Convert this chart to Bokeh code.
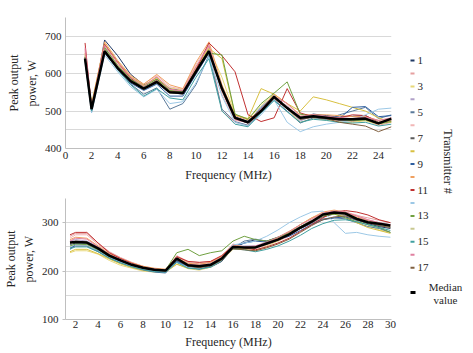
import math
from bokeh.plotting import figure
from bokeh.layouts import row, column
from bokeh.models import FixedTicker, Range1d, Label, ColumnDataSource
from bokeh.embed import file_html
from bokeh.resources import INLINE
from bokeh.core.properties import value

# ---------------- data ----------------
FREQ_A = [1.5, 2, 3, 4, 5, 6, 7, 8, 9, 10, 11, 12, 13, 14, 15, 16, 17, 18, 19, 20, 21, 22, 23, 24, 25]

TX_A = [
    [640, 500, 690, 648, 598, 570, 585, 560, 555, 610, 665, 560, 480, 468, 505, 540, 512, 480, 492, 488, 484, 486, 488, 470, 478],
    [665, 510, 672, 625, 588, 565, 590, 558, 552, 615, 672, 500, 470, 462, 498, 532, 510, 478, 484, 478, 474, 472, 476, 462, 470],
    [650, 515, 668, 622, 584, 568, 588, 562, 556, 620, 668, 590, 490, 478, 515, 545, 505, 470, 480, 476, 472, 470, 474, 465, 472],
    [645, 508, 662, 618, 580, 562, 582, 548, 546, 600, 660, 560, 478, 470, 502, 538, 506, 474, 486, 482, 476, 475, 478, 468, 476],
    [638, 498, 655, 612, 572, 545, 562, 505, 520, 570, 650, 505, 472, 462, 495, 530, 500, 468, 482, 478, 490, 500, 510, 480, 490],
    [660, 512, 675, 628, 590, 572, 595, 565, 558, 625, 678, 545, 475, 470, 500, 534, 515, 480, 488, 484, 480, 478, 482, 470, 482],
    [642, 505, 660, 615, 578, 558, 575, 550, 545, 602, 658, 555, 480, 468, 498, 536, 508, 478, 484, 480, 476, 476, 478, 466, 478],
    [635, 520, 680, 632, 592, 568, 590, 555, 550, 612, 668, 640, 490, 480, 560, 545, 520, 500, 538, 530, 520, 510, 500, 482, 470],
    [640, 502, 665, 618, 575, 555, 572, 540, 540, 598, 655, 565, 485, 472, 510, 542, 505, 480, 488, 485, 480, 510, 512, 485, 488],
    [655, 515, 685, 635, 595, 572, 598, 570, 560, 630, 685, 570, 488, 476, 505, 545, 520, 490, 490, 490, 488, 485, 486, 475, 480],
    [682, 508, 678, 630, 588, 560, 582, 552, 550, 610, 682, 648, 605, 490, 472, 482, 560, 495, 485, 484, 482, 490, 488, 470, 475],
    [630, 495, 650, 605, 565, 538, 558, 520, 525, 575, 645, 540, 470, 460, 490, 530, 470, 445, 458, 465, 470, 475, 490, 505, 508],
    [645, 510, 670, 622, 585, 565, 585, 555, 552, 608, 655, 650, 492, 478, 520, 548, 578, 492, 485, 482, 478, 474, 476, 466, 472],
    [648, 505, 664, 620, 582, 560, 580, 548, 548, 604, 662, 555, 482, 470, 500, 540, 510, 482, 486, 482, 478, 480, 482, 470, 476],
    [636, 500, 658, 610, 570, 540, 560, 535, 530, 590, 640, 500, 465, 458, 495, 528, 498, 470, 478, 475, 470, 468, 470, 460, 465],
    [670, 512, 676, 630, 590, 566, 592, 558, 554, 618, 675, 555, 478, 468, 505, 540, 520, 486, 490, 486, 482, 480, 484, 475, 482],
    [644, 506, 662, 616, 580, 560, 578, 550, 548, 604, 660, 560, 482, 468, 500, 535, 506, 478, 484, 480, 470, 465, 460, 445, 458],
]
MEDIAN_A = [640, 505, 660, 615, 580, 560, 578, 550, 548, 605, 660, 560, 482, 470, 500, 538, 508, 482, 486, 482, 478, 478, 480, 467, 480]

FREQ_B = [1.5, 2, 3, 4, 5, 6, 7, 8, 9, 10, 11, 12, 13, 14, 15, 16, 17, 18, 19, 20,
          21, 22, 23, 24, 25, 26, 27, 28, 29, 30]

TX_B = [
    [255, 258, 258, 245, 230, 220, 212, 205, 200, 198, 222, 210, 205, 208, 220, 248, 258, 265, 262, 270, 280, 292, 305, 318, 320, 318, 305, 298, 292, 288],
    [272, 278, 278, 258, 240, 228, 218, 210, 205, 203, 230, 218, 215, 218, 230, 255, 250, 248, 255, 262, 272, 288, 300, 315, 322, 320, 315, 310, 305, 300],
    [238, 242, 242, 235, 222, 212, 206, 200, 198, 198, 215, 205, 202, 208, 222, 245, 245, 242, 252, 262, 275, 290, 305, 318, 320, 316, 305, 295, 285, 280],
    [262, 265, 262, 250, 235, 225, 215, 208, 204, 202, 228, 214, 212, 215, 228, 250, 252, 252, 258, 268, 278, 292, 304, 314, 318, 315, 310, 305, 300, 296],
    [248, 252, 252, 240, 226, 216, 208, 202, 198, 196, 220, 208, 205, 210, 224, 248, 262, 266, 262, 268, 276, 288, 298, 308, 310, 308, 300, 292, 288, 280],
    [268, 275, 275, 255, 238, 226, 216, 208, 203, 202, 232, 220, 218, 220, 232, 256, 250, 246, 254, 264, 276, 292, 306, 318, 324, 322, 316, 306, 300, 296],
    [258, 260, 258, 246, 232, 222, 213, 206, 202, 200, 225, 212, 208, 212, 225, 250, 248, 250, 256, 264, 275, 288, 300, 312, 318, 320, 310, 300, 296, 292],
    [240, 245, 245, 236, 225, 215, 208, 202, 200, 198, 214, 206, 205, 210, 224, 248, 246, 248, 258, 270, 282, 296, 310, 318, 318, 312, 300, 290, 284, 278],
    [245, 255, 256, 242, 228, 218, 210, 203, 199, 197, 220, 208, 204, 210, 224, 250, 258, 262, 260, 266, 272, 284, 296, 306, 310, 312, 305, 300, 294, 290],
    [265, 270, 268, 252, 236, 226, 217, 210, 206, 204, 228, 216, 214, 218, 230, 254, 250, 250, 258, 268, 280, 296, 310, 322, 326, 322, 312, 304, 298, 294],
    [275, 280, 280, 258, 238, 226, 216, 208, 204, 202, 230, 220, 218, 220, 232, 252, 248, 244, 250, 258, 268, 282, 296, 310, 322, 325, 322, 316, 306, 300],
    [250, 255, 255, 243, 228, 218, 210, 204, 200, 198, 218, 208, 206, 212, 226, 254, 258, 262, 272, 285, 300, 312, 322, 324, 300, 278, 280, 275, 272, 270],
    [252, 256, 255, 244, 230, 222, 214, 207, 203, 202, 238, 245, 232, 238, 242, 262, 272, 265, 262, 270, 278, 292, 304, 314, 318, 310, 302, 296, 290, 280],
    [256, 260, 258, 246, 232, 222, 214, 207, 203, 201, 226, 213, 210, 214, 227, 250, 250, 250, 256, 265, 276, 290, 302, 316, 320, 318, 308, 300, 296, 290],
    [246, 250, 250, 240, 227, 217, 209, 203, 199, 198, 218, 206, 204, 208, 222, 246, 244, 240, 245, 252, 262, 274, 288, 298, 305, 306, 302, 296, 290, 284],
    [262, 268, 266, 250, 234, 224, 215, 208, 204, 202, 226, 214, 212, 215, 228, 252, 250, 252, 260, 270, 282, 296, 308, 320, 324, 322, 314, 306, 300, 295],
    [258, 262, 260, 247, 232, 222, 213, 206, 202, 200, 224, 210, 207, 211, 223, 246, 244, 242, 248, 256, 266, 280, 294, 306, 312, 314, 306, 300, 294, 290],
]
MEDIAN_B = [259, 260, 259, 247, 232, 222, 213, 207, 203, 201, 226, 212, 210, 213, 226, 250, 249, 249, 257, 265,
            276, 290, 302, 317, 321, 319, 308, 301, 298, 294]

TICKS_X_A = [0, 2, 4, 6, 8, 10, 12, 14, 16, 18, 20, 22, 24]
TICKS_X_B = [2, 4, 6, 8, 10, 12, 14, 16, 18, 20, 22, 24, 26, 28, 30]
TICKS_Y_A = [400, 500, 600, 700]
GRID_Y_A = [450, 550, 650, 750]
TICKS_Y_B = [100, 200, 300]
GRID_Y_B = [150, 250, 350]

COLORS = ["#1f3864", "#e6a0a0", "#e8d878", "#b0a0c8", "#5a7a9a", "#f2b6b6", "#5a5a5a",
          "#d8c040", "#2e5fa0", "#f0a060", "#c03030", "#9cc8e6", "#70a040", "#c8c890",
          "#40a0a0", "#e080a0", "#806040"]
LEGEND_LABELS = ["1", "", "3", "", "5", "", "7", "", "9", "", "11", "", "13", "", "15", "", "17"]

FONT = "'Liberation Serif', 'DejaVu Serif', serif"
TEXT_COLOR = "#262626"
GRID_COLOR = "#d9d9d9"
AXIS_COLOR = "#bfbfbf"


def style(p, xticks, yticks, ygrid, ytick_out, lab_standoff, title_standoff):
    p.outline_line_color = None
    p.xgrid.grid_line_color = None
    yt = FixedTicker(ticks=yticks, minor_ticks=ygrid)
    p.yaxis.ticker = yt
    p.ygrid.ticker = yt
    p.xaxis.ticker = FixedTicker(ticks=xticks)
    p.ygrid.grid_line_color = GRID_COLOR
    p.ygrid.minor_grid_line_color = GRID_COLOR
    for ax in (p.xaxis[0], p.yaxis[0]):
        ax.axis_line_color = AXIS_COLOR
        ax.major_tick_line_color = AXIS_COLOR
        ax.major_tick_in = 0
        ax.minor_tick_in = 0
        ax.minor_tick_out = 0
        ax.major_label_text_font = FONT
        ax.major_label_text_font_size = "11px"
        ax.major_label_text_color = TEXT_COLOR
        ax.axis_label_text_font = FONT
        ax.axis_label_text_font_size = "12px"
        ax.axis_label_text_font_style = "normal"
        ax.axis_label_text_color = TEXT_COLOR
    p.xaxis.major_tick_out = 0
    p.yaxis.major_tick_out = ytick_out
    p.xaxis.major_label_standoff = lab_standoff
    p.xaxis.axis_label_standoff = title_standoff
    p.yaxis.major_label_standoff = 4
    p.yaxis.axis_label_standoff = 3
    p.yaxis.axis_label_text_line_height = 1.3
    p.xaxis.axis_label = "Frequency (MHz)"
    p.yaxis.axis_label = "Peak output\npower, W"


# ---------------- panel A ----------------
pA = figure(width=400, height=184, x_range=Range1d(0, 25), y_range=Range1d(400, 750),
            output_backend="svg", toolbar_location=None,
            min_border_left=63, min_border_right=8, min_border_top=17, min_border_bottom=36)
style(pA, TICKS_X_A, TICKS_Y_A, GRID_Y_A, 0, 3, 6)
for vals, c in zip(TX_A, COLORS):
    pA.line(FREQ_A, vals, line_color=c, line_width=1)
pA.line(FREQ_A, MEDIAN_A, line_color="black", line_width=2.5)
pA.add_layout(Label(x=-57, y=757, x_units="screen", y_units="data", text="A)",
                    text_font=FONT, text_font_size="12px", text_color=TEXT_COLOR,
                    text_baseline="middle"))

# ---------------- panel B ----------------
pB = figure(width=400, height=169, x_range=Range1d(1.1, 30.1), y_range=Range1d(100, 350),
            output_backend="svg", toolbar_location=None,
            min_border_left=63, min_border_right=9, min_border_top=14, min_border_bottom=34)
style(pB, TICKS_X_B, TICKS_Y_B, GRID_Y_B, 3, 1, 4)
for vals, c in zip(TX_B, COLORS):
    pB.line(FREQ_B, vals, line_color=c, line_width=1)
pB.line(FREQ_B, MEDIAN_B, line_color="black", line_width=2.5)
pB.add_layout(Label(x=-57, y=362, x_units="screen", y_units="data", text="B)",
                    text_font=FONT, text_font_size="12px", text_color=TEXT_COLOR,
                    text_baseline="middle"))

# ---------------- legend ----------------
pL = figure(width=73, height=353, x_range=Range1d(400, 473), y_range=Range1d(353, 0),
            output_backend="svg", toolbar_location=None,
            min_border_left=0, min_border_right=0, min_border_top=0, min_border_bottom=0)
pL.axis.visible = False
pL.grid.grid_line_color = None
pL.outline_line_color = None

n = len(LEGEND_LABELS)
ly = [60 + i * 12.95 for i in range(n)]
leg = ColumnDataSource(dict(x0=[410] * n, x1=[414] * n, y=ly, c=COLORS, t=LEGEND_LABELS, tx=[417] * n))
pL.segment(x0="x0", y0="y", x1="x1", y1="y", line_color="c", line_width=2, source=leg)
pL.text(x="tx", y="y", text="t", source=leg, text_font=value(FONT), text_font_size="11px",
        text_color=TEXT_COLOR, text_baseline="middle", text_align="left")
pL.segment(x0=[410], y0=[292], x1=[415], y1=[292], line_color="black", line_width=3)
pL.text(x=[445, 445], y=[286, 299], text=["Median", "value"], text_font=value(FONT),
        text_font_size="11px", text_color=TEXT_COLOR, text_baseline="middle", text_align="center")
pL.text(x=[447], y=[161], text=["Transmitter #"], angle=-math.pi / 2, text_font=value(FONT),
        text_font_size="12px", text_color=TEXT_COLOR, text_baseline="middle", text_align="center")

layout = row(column(pA, pB), pL)
open("out.html", "w").write(file_html(layout, INLINE))
